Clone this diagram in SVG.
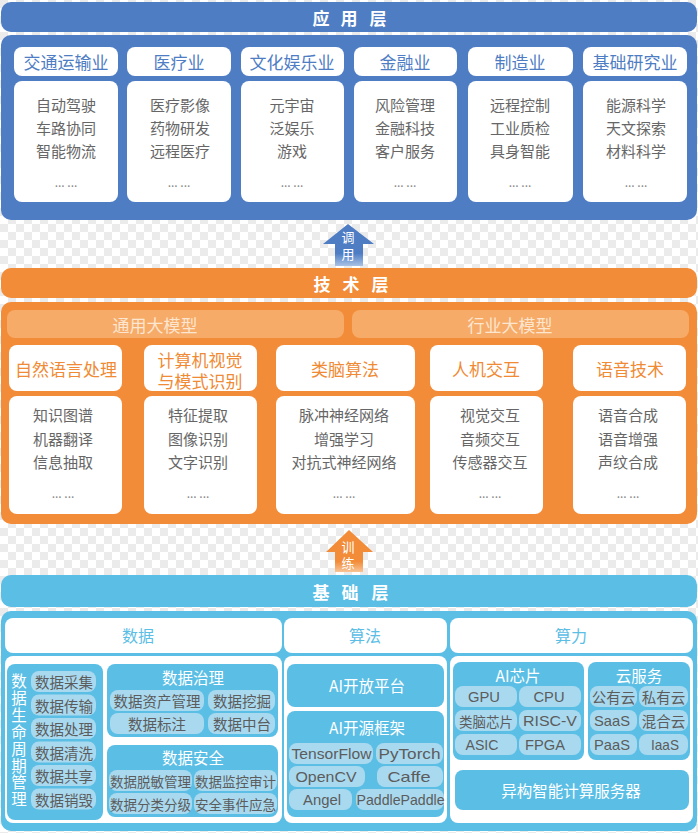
<svg xmlns="http://www.w3.org/2000/svg" width="698" height="833" viewBox="0 0 698 833">
<defs>
<pattern id="chk" width="16" height="16" patternUnits="userSpaceOnUse">
<rect width="16" height="16" fill="#ffffff"/>
<rect width="8" height="8" fill="#ebebeb"/>
<rect x="8" y="8" width="8" height="8" fill="#ebebeb"/>
</pattern>
<linearGradient id="gBlue" x1="0" y1="0" x2="0" y2="1">
<stop offset="0" stop-color="#4e7dc4"/>
<stop offset="0.7" stop-color="#4e7dc4"/>
<stop offset="1" stop-color="#a9c2e6"/>
</linearGradient>
<linearGradient id="gOrange" x1="0" y1="0" x2="0" y2="1">
<stop offset="0" stop-color="#f28c38"/>
<stop offset="0.75" stop-color="#f28c38"/>
<stop offset="1" stop-color="#f7c496"/>
</linearGradient>
<style>
text{font-family:"Noto Sans CJK SC","Liberation Sans",sans-serif;text-anchor:middle;dominant-baseline:central}
.lat{font-family:"Liberation Sans","Noto Sans CJK SC",sans-serif;font-size:17px}
.ttl{fill:#fff;font-size:17px;font-weight:bold}
.bA{fill:#4e7dc4}
.bT{fill:#f28c38}
.bB{fill:#5bbee5}
.wh{fill:#fff}
.hA{fill:#4e7dc4;font-size:17px}
.hT{fill:#f08a34;font-size:17px}
.hB{fill:#5bbee5;font-size:16px}
.it{fill:#666;font-size:15px}
.dot{fill:#888;font-size:12px}
.sub{fill:#f6ab69}
.subt{fill:#fde6d0;font-size:17px}
.pan{fill:#5bbee5}
.pill{fill:#a9d9ef}
.pt{fill:#5c5c5c;font-size:14.5px}
.pts{fill:#5c5c5c;font-size:13.5px}
.wt{fill:#fff;font-size:15.5px}
.vt{fill:#fff;font-size:15.5px;writing-mode:vertical-rl;letter-spacing:1.4px}
.av{fill:#fff;font-size:13px;writing-mode:vertical-rl}
</style>
</defs>
<rect width="698" height="833" fill="url(#chk)"/>

<!-- Application layer -->
<g id="app-layer">
<rect class="bA" x="1" y="2" width="696" height="30" rx="10"/>
<text class="ttl" x="321" y="17">应</text>
<text class="ttl" x="349" y="17">用</text>
<text class="ttl" x="378" y="17">层</text>
<rect class="bA" x="1" y="35" width="696" height="185" rx="10"/>
</g>
<g id="app-transport">
<rect class="wh" x="14" y="47" width="104" height="29" rx="8"/>
<text class="hA" x="66" y="61">交通运输业</text>
<rect class="wh" x="14" y="81" width="104" height="121" rx="8"/>
<text class="it" x="66" y="104">自动驾驶</text>
<text class="it" x="66" y="127">车路协同</text>
<text class="it" x="66" y="150">智能物流</text>
<text class="dot" x="66" y="181">... ...</text>
</g>
<g id="app-medical">
<rect class="wh" x="127" y="47" width="104" height="29" rx="8"/>
<text class="hA" x="179" y="61">医疗业</text>
<rect class="wh" x="127" y="81" width="104" height="121" rx="8"/>
<text class="it" x="180" y="104">医疗影像</text>
<text class="it" x="180" y="127">药物研发</text>
<text class="it" x="180" y="150">远程医疗</text>
<text class="dot" x="179" y="181">... ...</text>
</g>
<g id="app-culture">
<rect class="wh" x="241" y="47" width="103" height="29" rx="8"/>
<text class="hA" x="292" y="61">文化娱乐业</text>
<rect class="wh" x="241" y="81" width="103" height="121" rx="8"/>
<text class="it" x="292" y="104">元宇宙</text>
<text class="it" x="292" y="127">泛娱乐</text>
<text class="it" x="292" y="150">游戏</text>
<text class="dot" x="292" y="181">... ...</text>
</g>
<g id="app-finance">
<rect class="wh" x="354" y="47" width="103" height="29" rx="8"/>
<text class="hA" x="405" y="61">金融业</text>
<rect class="wh" x="354" y="81" width="103" height="121" rx="8"/>
<text class="it" x="405" y="104">风险管理</text>
<text class="it" x="405" y="127">金融科技</text>
<text class="it" x="405" y="150">客户服务</text>
<text class="dot" x="405" y="181">... ...</text>
</g>
<g id="app-manufacturing">
<rect class="wh" x="468" y="47" width="105" height="29" rx="8"/>
<text class="hA" x="520" y="61">制造业</text>
<rect class="wh" x="468" y="81" width="105" height="121" rx="8"/>
<text class="it" x="520" y="104">远程控制</text>
<text class="it" x="520" y="127">工业质检</text>
<text class="it" x="520" y="150">具身智能</text>
<text class="dot" x="520" y="181">... ...</text>
</g>
<g id="app-research">
<rect class="wh" x="583" y="47" width="104" height="29" rx="8"/>
<text class="hA" x="635" y="61">基础研究业</text>
<rect class="wh" x="583" y="81" width="104" height="121" rx="8"/>
<text class="it" x="636" y="104">能源科学</text>
<text class="it" x="636" y="127">天文探索</text>
<text class="it" x="636" y="150">材料科学</text>
<text class="dot" x="636" y="181">... ...</text>
</g>

<!-- Technology layer -->
<g id="tech-layer">
<rect class="bT" x="1" y="268" width="696" height="30" rx="10"/>
<text class="ttl" x="322" y="283">技</text>
<text class="ttl" x="351" y="283">术</text>
<text class="ttl" x="380" y="283">层</text>
<rect class="bT" x="1" y="302" width="696" height="222" rx="10"/>
</g>
<g id="tech-general-model">
<rect class="sub" x="7" y="310" width="337" height="28" rx="8"/>
<text class="subt" x="155" y="324">通用大模型</text>
</g>
<g id="tech-industry-model">
<rect class="sub" x="352" y="310" width="337" height="28" rx="8"/>
<text class="subt" x="510" y="324">行业大模型</text>
</g>
<g id="tech-nlp">
<rect class="wh" x="9" y="345" width="113" height="46" rx="8"/>
<text class="hT" x="66" y="368">自然语言处理</text>
<rect class="wh" x="9" y="396" width="113" height="118" rx="8"/>
<text class="it" x="63" y="414">知识图谱</text>
<text class="it" x="63" y="438">机器翻译</text>
<text class="it" x="63" y="461">信息抽取</text>
<text class="dot" x="63" y="492">... ...</text>
</g>
<g id="tech-cv">
<rect class="wh" x="144" y="345" width="113" height="46" rx="8"/>
<text class="hT" x="200" y="359">计算机视觉<tspan x="200" dy="21">与模式识别</tspan></text>
<rect class="wh" x="144" y="396" width="113" height="118" rx="8"/>
<text class="it" x="198" y="414">特征提取</text>
<text class="it" x="198" y="438">图像识别</text>
<text class="it" x="198" y="461">文字识别</text>
<text class="dot" x="198" y="492">... ...</text>
</g>
<g id="tech-brain">
<rect class="wh" x="276" y="345" width="139" height="46" rx="8"/>
<text class="hT" x="345" y="368">类脑算法</text>
<rect class="wh" x="276" y="396" width="139" height="118" rx="8"/>
<text class="it" x="344" y="414">脉冲神经网络</text>
<text class="it" x="344" y="438">增强学习</text>
<text class="it" x="344" y="461">对抗式神经网络</text>
<text class="dot" x="344" y="492">... ...</text>
</g>
<g id="tech-hci">
<rect class="wh" x="430" y="345" width="113" height="46" rx="8"/>
<text class="hT" x="486" y="368">人机交互</text>
<rect class="wh" x="430" y="396" width="113" height="118" rx="8"/>
<text class="it" x="490" y="414">视觉交互</text>
<text class="it" x="490" y="438">音频交互</text>
<text class="it" x="490" y="461">传感器交互</text>
<text class="dot" x="490" y="492">... ...</text>
</g>
<g id="tech-speech">
<rect class="wh" x="573" y="345" width="113" height="46" rx="8"/>
<text class="hT" x="630" y="368">语音技术</text>
<rect class="wh" x="573" y="396" width="113" height="118" rx="8"/>
<text class="it" x="628" y="414">语音合成</text>
<text class="it" x="628" y="438">语音增强</text>
<text class="it" x="628" y="461">声纹合成</text>
<text class="dot" x="628" y="492">... ...</text>
</g>

<!-- Base layer -->
<g id="base-layer">
<rect class="bB" x="1" y="575" width="696" height="32" rx="10"/>
<text class="ttl" x="321" y="591">基</text>
<text class="ttl" x="350" y="591">础</text>
<text class="ttl" x="380" y="591">层</text>
<rect class="bB" x="1" y="611" width="696" height="220" rx="10"/>
</g>

<g id="base-data">
<rect class="wh" x="5" y="618" width="277" height="35" rx="8"/>
<text class="hB" x="138" y="635">数据</text>
<rect class="wh" x="5" y="656" width="277" height="167" rx="8"/>
</g>
<g id="data-lifecycle">
<rect class="pan" x="7" y="664" width="96" height="156" rx="8"/>
<text class="vt" x="19" y="741">数据生命周期管理</text>
<rect class="pill" x="31" y="671" width="65" height="21" rx="8"/>
<text class="pt" x="64" y="681.5">数据采集</text>
<rect class="pill" x="31" y="694.5" width="65" height="21" rx="8"/>
<text class="pt" x="64" y="705">数据传输</text>
<rect class="pill" x="31" y="718" width="65" height="21" rx="8"/>
<text class="pt" x="64" y="728.5">数据处理</text>
<rect class="pill" x="31" y="741.5" width="65" height="21" rx="8"/>
<text class="pt" x="64" y="752">数据清洗</text>
<rect class="pill" x="31" y="765" width="65" height="21" rx="8"/>
<text class="pt" x="64" y="775.5">数据共享</text>
<rect class="pill" x="31" y="788.5" width="65" height="21" rx="8"/>
<text class="pt" x="64" y="799">数据销毁</text>
</g>
<g id="data-governance">
<rect class="pan" x="107" y="664" width="171" height="73" rx="8"/>
<text class="wt" x="193" y="677">数据治理</text>
<rect class="pill" x="110" y="690" width="94" height="21" rx="8"/>
<text class="pt" x="157" y="700.5">数据资产管理</text>
<rect class="pill" x="208" y="690" width="67" height="21" rx="8"/>
<text class="pt" x="242" y="700.5">数据挖掘</text>
<rect class="pill" x="110" y="713" width="94" height="21" rx="8"/>
<text class="pt" x="157" y="723.5">数据标注</text>
<rect class="pill" x="208" y="713" width="67" height="21" rx="8"/>
<text class="pt" x="242" y="723.5">数据中台</text>
</g>
<g id="data-security">
<rect class="pan" x="107" y="745" width="171" height="72" rx="8"/>
<text class="wt" x="193" y="757">数据安全</text>
<rect class="pill" x="109" y="770" width="83" height="21" rx="8"/>
<text class="pts" x="150.5" y="780.5">数据脱敏管理</text>
<rect class="pill" x="194" y="770" width="83" height="21" rx="8"/>
<text class="pts" x="235.5" y="780.5">数据监控审计</text>
<rect class="pill" x="109" y="793" width="83" height="21" rx="8"/>
<text class="pts" x="150.5" y="803.5">数据分类分级</text>
<rect class="pill" x="194" y="793" width="83" height="21" rx="8"/>
<text class="pts" x="235.5" y="803.5">安全事件应急</text>
</g>

<g id="base-algorithm">
<rect class="wh" x="284" y="618" width="163" height="35" rx="8"/>
<text class="hB" x="365" y="635">算法</text>
<rect class="wh" x="284" y="656" width="163" height="167" rx="8"/>
</g>
<g id="algo-platform">
<rect class="pan" x="287" y="664" width="157" height="43" rx="8"/>
<text class="wt" x="367" y="685" font-size="16">AI开放平台</text>
</g>
<g id="algo-framework">
<rect class="pan" x="287" y="711" width="157" height="106" rx="8"/>
<text class="wt" x="367" y="727" font-size="16">AI开源框架</text>
<rect class="pill" x="289" y="743" width="84" height="21" rx="8"/>
<text class="pt lat" x="331.5" y="753.5" textLength="80" lengthAdjust="spacingAndGlyphs">TensorFlow</text>
<rect class="pill" x="376" y="743" width="67" height="21" rx="8"/>
<text class="pt lat" x="409.5" y="753.5" textLength="62" lengthAdjust="spacingAndGlyphs">PyTorch</text>
<rect class="pill" x="289" y="766" width="76" height="21" rx="8"/>
<text class="pt lat" x="326" y="776.5" textLength="61" lengthAdjust="spacingAndGlyphs">OpenCV</text>
<rect class="pill" x="377" y="766" width="66" height="21" rx="8"/>
<text class="pt lat" x="409" y="776.5" textLength="43" lengthAdjust="spacingAndGlyphs">Caffe</text>
<rect class="pill" x="289" y="789" width="63" height="21" rx="8"/>
<text class="pt lat" x="322" y="799.5" textLength="38" lengthAdjust="spacingAndGlyphs">Angel</text>
<rect class="pill" x="356" y="789" width="88" height="21" rx="8"/>
<text class="pt lat" x="400.5" y="799.5" textLength="88" lengthAdjust="spacingAndGlyphs">PaddlePaddle</text>
</g>

<g id="base-compute">
<rect class="wh" x="450" y="618" width="243" height="35" rx="8"/>
<text class="hB" x="571" y="635">算力</text>
<rect class="wh" x="450" y="656" width="243" height="167" rx="8"/>
</g>
<g id="compute-chips">
<rect class="pan" x="453" y="662" width="131" height="98" rx="8"/>
<text class="wt" x="518" y="675" font-size="16">AI芯片</text>
<rect class="pill" x="455" y="686" width="62" height="21" rx="8"/>
<text class="pt lat" x="484" y="696.5" textLength="32" lengthAdjust="spacingAndGlyphs">GPU</text>
<rect class="pill" x="519" y="686" width="62" height="21" rx="8"/>
<text class="pt lat" x="549" y="696.5" textLength="31" lengthAdjust="spacingAndGlyphs">CPU</text>
<rect class="pill" x="455" y="710" width="62" height="21" rx="8"/>
<text class="pts" x="486" y="720.5">类脑芯片</text>
<rect class="pill" x="519" y="710" width="62" height="21" rx="8"/>
<text class="pt lat" x="550" y="720.5" textLength="54" lengthAdjust="spacingAndGlyphs">RISC-V</text>
<rect class="pill" x="455" y="734" width="62" height="21" rx="8"/>
<text class="pt lat" x="482" y="744.5" textLength="33" lengthAdjust="spacingAndGlyphs">ASIC</text>
<rect class="pill" x="519" y="734" width="62" height="21" rx="8"/>
<text class="pt lat" x="545" y="744.5" textLength="40" lengthAdjust="spacingAndGlyphs">FPGA</text>
</g>
<g id="compute-cloud">
<rect class="pan" x="588" y="662" width="102" height="98" rx="8"/>
<text class="wt" x="639" y="675" font-size="16">云服务</text>
<rect class="pill" x="590" y="686" width="47" height="21" rx="8"/>
<text class="pt" x="613.5" y="696.5">公有云</text>
<rect class="pill" x="639" y="686" width="49" height="21" rx="8"/>
<text class="pt" x="663.5" y="696.5">私有云</text>
<rect class="pill" x="590" y="710" width="47" height="21" rx="8"/>
<text class="pt lat" x="612" y="720.5" textLength="36" lengthAdjust="spacingAndGlyphs">SaaS</text>
<rect class="pill" x="639" y="710" width="49" height="21" rx="8"/>
<text class="pt" x="663.5" y="720.5">混合云</text>
<rect class="pill" x="590" y="734" width="47" height="21" rx="8"/>
<text class="pt lat" x="612" y="744.5" textLength="36" lengthAdjust="spacingAndGlyphs">PaaS</text>
<rect class="pill" x="639" y="734" width="49" height="21" rx="8"/>
<text class="pt lat" x="665" y="744.5" textLength="28" lengthAdjust="spacingAndGlyphs">IaaS</text>
</g>
<g id="compute-server">
<rect class="pan" x="455" y="770" width="234" height="40" rx="8"/>
<text class="wt" x="571" y="790" font-size="16">异构智能计算服务器</text>
</g>

<!-- Connectors -->
<g id="connectors">
<g id="arrow-call">
<path d="M348,224 L374,244 L363,244 L363,266 L335,266 L335,244 L323,244 Z" fill="url(#gBlue)"/>
<text class="av" x="348" y="248" letter-spacing="4">调用</text>
</g>
<g id="arrow-train">
<path d="M349,530 L373,552 L363,552 L363,572 L335,572 L335,552 L326,552 Z" fill="url(#gOrange)"/>
<text class="av" x="348" y="556.5" letter-spacing="3">训练</text>
</g>
</g>
</svg>
